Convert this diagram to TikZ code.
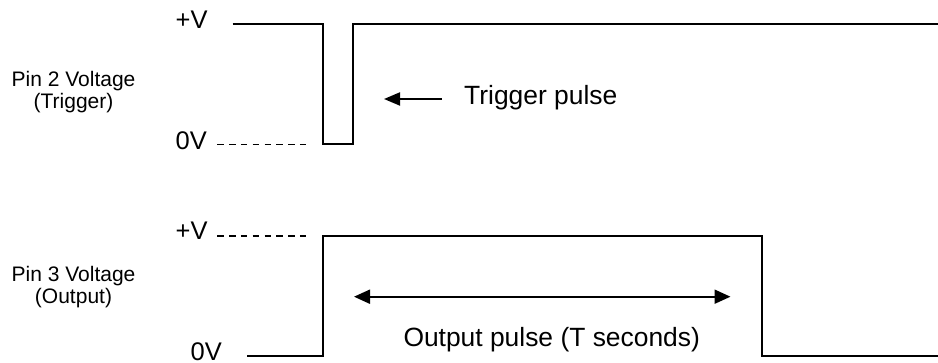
\documentclass[tikz,border=0pt]{standalone}
\usepackage{fontspec}
\setmainfont{Liberation Sans}
\usetikzlibrary{arrows.meta}
\begin{document}
\begin{tikzpicture}[x=1pt,y=-1pt,
  trace/.style={line width=2pt,line join=miter},
  ref/.style={line width=1.8pt,dash pattern=on 6.5pt off 5.3pt},
  lvl/.style={inner sep=0pt,anchor=base west,font=\fontsize{25.5}{28}\selectfont},
  pinlbl/.style={inner sep=0pt,anchor=base,align=center,font=\fontsize{21}{21.8}\selectfont},
  note/.style={inner sep=0pt,anchor=base west,font=\fontsize{26.4}{28}\selectfont},
  pointer/.style={line width=2pt,-{Triangle[length=16pt,width=13pt]}}]
\useasboundingbox (0,0) rectangle (938,363);
% labels
\node[pinlbl] (pin2) at (73.5,108.3) {Pin 2 Voltage\\(Trigger)};
\node[pinlbl] (pin3) at (73.5,303.5) {Pin 3 Voltage\\(Output)};
\node[lvl] (tpv) at (175.5,28.3) {+V};
\node[lvl] (t0v) at (175.5,150) {0V};
\node[lvl] (bpv) at (175.5,240) {+V};
\node[lvl] (b0v) at (190.5,361) {0V};
% trigger trace
\coordinate (ta) at (232.7,24);
\coordinate (tb) at (323,24);
\coordinate (tc) at (323,144.5);
\coordinate (td) at (353.3,144.5);
\coordinate (te) at (353.3,24);
\coordinate (tf) at (940,24);
\draw[trace] (ta) -- (tb) -- (tc) -- (td) -- (te) -- (tf);
\coordinate (tda) at (217.3,144.5);
\coordinate (tdb) at (308,144.5);
\draw[ref] (tda) -- (tdb);
% output trace
\coordinate (oa) at (247.3,356.3);
\coordinate (ob) at (323,356.3);
\coordinate (oc) at (323,235.7);
\coordinate (od) at (761.7,235.7);
\coordinate (oe) at (761.7,356.3);
\coordinate (of) at (940,356.3);
\draw[trace,line width=1.8pt] (oa) -- (ob) -- (oc) -- (od) -- (oe) -- (of);
\coordinate (oda) at (217.3,235.7);
\coordinate (odb) at (308,235.7);
\draw[ref] (oda) -- (odb);
% trigger pulse annotation
\node[note] (trig) at (464,104.3) {Trigger pulse};
\coordinate (tgtail) at (441.7,99);
\coordinate (tgtip) at (384,99);
\draw[pointer] (tgtail) -- (tgtip);
% output pulse annotation
\coordinate (pl) at (354,296.7);
\coordinate (pr) at (730.5,296.7);
\draw[line width=2pt,{Triangle[length=16pt,width=14pt]}-{Triangle[length=16pt,width=14pt]}] (pl) -- (pr);
\node[note] (outp) at (403.3,346.7) {Output pulse (T seconds)};
\end{tikzpicture}
\end{document}
